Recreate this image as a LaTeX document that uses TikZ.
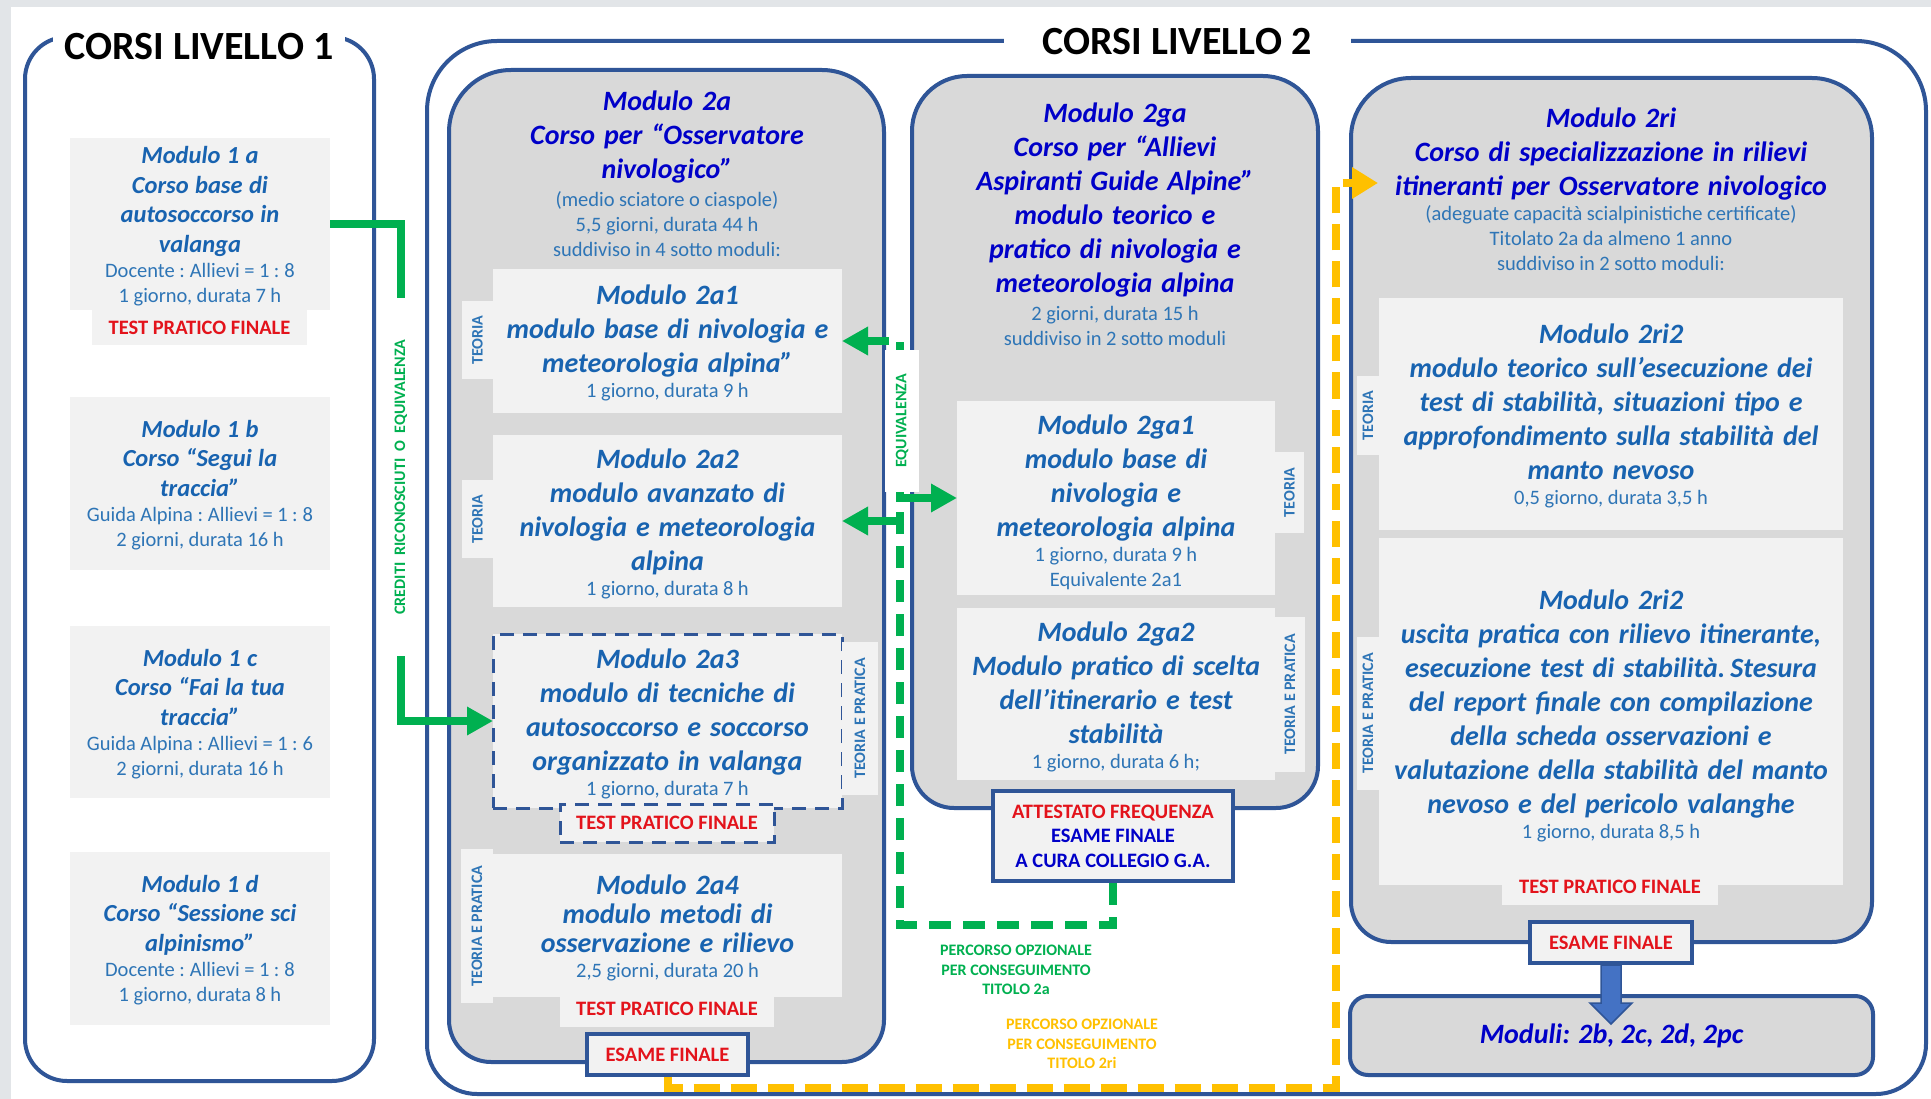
\documentclass[tikz,border=0pt]{standalone}
\usepackage{fontspec}
\setmainfont{Carlito}
\usetikzlibrary{arrows.meta,calc}
\definecolor{bordo}{HTML}{2F5597}
\definecolor{boxg}{HTML}{D9D9D9}
\definecolor{lightg}{HTML}{F2F2F2}
\definecolor{titleblue}{HTML}{0000C8}
\definecolor{headblue}{HTML}{1863B0}
\definecolor{smallblue}{HTML}{2E75B6}
\definecolor{redt}{HTML}{E3131B}
\definecolor{greenl}{HTML}{00B050}
\definecolor{yell}{HTML}{FFC000}
\definecolor{arrblue}{HTML}{4472C4}
\definecolor{bgg}{HTML}{E2E5E8}
\setlength\parindent{0pt}
\newcommand\hdL{\fontsize{28}{34}\selectfont\bfseries\itshape\color{headblue}\spaceskip=.32em\relax}
\newcommand\hdM{\fontsize{28}{29}\selectfont\bfseries\itshape\color{headblue}\spaceskip=.32em\relax}
\newcommand\hdT{\fontsize{28}{34}\selectfont\bfseries\itshape\color{titleblue}\spaceskip=.32em\relax}
\newcommand\hdI{\fontsize{24.5}{29.5}\selectfont\bfseries\itshape\color{headblue}\spaceskip=.26em\relax}
\newcommand\smL{\fontsize{20.5}{25}\selectfont\mdseries\upshape\color{smallblue}\spaceskip=.22em\relax}
\newcommand\tstR{\fontsize{20.5}{24.5}\selectfont\bfseries\upshape\color{redt}\spaceskip=.226em\relax}
\newcommand\attB{\fontsize{20.5}{24.5}\selectfont\bfseries\upshape\color{titleblue}\spaceskip=.226em\relax}
\newcommand\gapS{\vskip3pt}
\newcommand\frameRR[7]{\path[#7] (#1,{(#2+#4)/2}) [rounded corners=#5pt] -- (#1,#2) -- (#3,#2) -- (#3,{(#2+#4)/2}) [rounded corners=#6pt] -- (#3,#4) -- (#1,#4) -- cycle;}
\tikzset{
 lvframe/.style={draw=bordo, line width=4pt},
 modframe/.style={draw=bordo, line width=4pt, fill=boxg},
 lbox/.style={fill=lightg, inner sep=0pt, outer sep=0pt},
 dbox/.style={lbox, draw=bordo, line width=3pt, dash pattern=on 14pt off 9pt},
 txt/.style={inner sep=0pt, text width=480pt, align=center},
 tabv/.style={lbox, rotate=90, font=\fontsize{16}{19}\selectfont\bfseries, text=smallblue},
 testlbl/.style={font=\fontsize{20.5}{25}\selectfont\bfseries, text=redt},
 esame/.style={fill=lightg, draw=bordo, line width=4pt, inner sep=0pt},
 lvtitle/.style={fill=white, inner sep=0pt, font=\fontsize{40}{48}\selectfont\bfseries, text=black},
 gline/.style={draw=greenl, line width=8pt},
 gdash/.style={gline, dash pattern=on 22pt off 12pt},
 ydash/.style={draw=yell, line width=8pt, dash pattern=on 26pt off 11pt},
 gtip/.style={-{Triangle[length=26pt,width=27pt]}},
 ytip/.style={-{Triangle[length=26pt,width=30pt]}},
 vlabel/.style={rotate=90, inner sep=0pt, font=\fontsize{16}{19}\selectfont\bfseries, text=greenl},
 pathlbl/.style={align=center, inner sep=0pt, font=\fontsize{16}{19.5}\selectfont\bfseries},
}
\begin{document}
\begin{tikzpicture}[x=1pt,y=-1pt]
\useasboundingbox (0,0) rectangle (1931,1099);
\fill[white] (0,0) rectangle (1931,1099);
\fill[bgg] (0,0) rectangle (1931,7);
\fill[bgg] (0,0) rectangle (11,1099);

% ---------- LEVEL 1 ----------
\frameRR{25}{37}{374}{1081}{42}{42}{lvframe}
\node[lvtitle, minimum width=292pt, minimum height=40pt] (t1) at (199,47) {CORSI LIVELLO 1};

\node[lbox, minimum width=260pt, minimum height=172pt] (m1a) at (200,224) {};
\node[lbox, testlbl, minimum width=215pt, minimum height=35pt] (tst1a) at (199.5,327.5) {TEST PRATICO FINALE};
\node[txt] (x1a) at (200,226) {{\hdI Modulo 1 a\par Corso base di\par autosoccorso in\par valanga\par}{\smL Docente : Allievi = 1 : 8\par 1 giorno, durata 7 h\par}};

\node[lbox, minimum width=260pt, minimum height=173pt] (m1b) at (200,483) {};
\node[txt] (x1b) at (200,485) {{\hdI Modulo 1 b\par Corso “Segui la\par traccia”\par}{\smL Guida Alpina : Allievi = 1 : 8\par 2 giorni, durata 16 h\par}};

\node[lbox, minimum width=260pt, minimum height=172pt] (m1c) at (200,712) {};
\node[txt] (x1c) at (200,714) {{\hdI Modulo 1 c\par Corso “Fai la tua\par traccia”\par}{\smL Guida Alpina : Allievi = 1 : 6\par 2 giorni, durata 16 h\par}};

\node[lbox, minimum width=260pt, minimum height=173pt] (m1d) at (200,938.5) {};
\node[txt] (x1d) at (200,940) {{\hdI Modulo 1 d\par Corso “Sessione sci\par alpinismo”\par}{\smL Docente : Allievi = 1 : 8\par 1 giorno, durata 8 h\par}};

% ---------- LEVEL 2 ----------
\frameRR{427}{41}{1926}{1094}{70}{50}{lvframe}
\node[lvtitle, minimum width=347pt, minimum height=40pt] (t2) at (1177,42) {CORSI LIVELLO 2};

% module 2a
\frameRR{449}{70}{884}{1062}{62}{42}{modframe}
\node[txt] (ttl2a) at (667,174) {{\hdT Modulo 2a\par Corso per “Osservatore\par nivologico”\par}\gapS{\smL (medio sciatore o ciaspole)\par 5,5 giorni, durata 44 h\par suddiviso in 4 sotto moduli:\par}};

\node[lbox, minimum width=349pt, minimum height=144pt] (m2a1) at (667.5,341) {};
\node[tabv, minimum width=78pt, minimum height=31pt] (tb2a1) at (477.5,340) {TEORIA};
\node[txt] (x2a1) at (667.5,343) {{\hdL Modulo 2a1\par modulo base di nivologia e\par meteorologia alpina”\par}{\smL 1 giorno, durata 9 h\par}};

\node[lbox, minimum width=349pt, minimum height=172pt] (m2a2) at (667.5,521) {};
\node[tabv, minimum width=78pt, minimum height=31pt] (tb2a2) at (477.5,519) {TEORIA};
\node[txt] (x2a2) at (667.5,524) {{\hdL Modulo 2a2\par modulo avanzato di\par nivologia e meteorologia\par alpina\par}{\smL 1 giorno, durata 8 h\par}};

\node[dbox, minimum width=349pt, minimum height=174pt] (m2a3) at (667.5,721) {};
\node[tabv, minimum width=153pt, minimum height=36pt] (tb2a3) at (860,718.5) {TEORIA E PRATICA};
\node[txt] (x2a3) at (667.5,724) {{\hdL Modulo 2a3\par modulo di tecniche di\par autosoccorso e soccorso\par organizzato in valanga\par}{\smL 1 giorno, durata 7 h\par}};
\node[dbox, testlbl, minimum width=214pt, minimum height=38pt] (tst2a3) at (667,823) {TEST PRATICO FINALE};

\node[lbox, minimum width=349pt, minimum height=143pt] (m2a4) at (667.5,925.5) {};
\node[tabv, minimum width=154pt, minimum height=32pt] (tb2a4) at (477,926) {TEORIA E PRATICA};
\node[txt] (x2a4) at (667.5,928) {{\hdM Modulo 2a4\par modulo metodi di\par osservazione e rilievo\par}{\smL 2,5 giorni, durata 20 h\par}};
\node[lbox, testlbl, minimum width=214pt, minimum height=37pt] (tst2a4) at (667,1008.5) {TEST PRATICO FINALE};

\node[esame, testlbl, minimum width=161pt, minimum height=41pt] (e2a) at (667.5,1054.5) {ESAME FINALE};

% module 2ga
\frameRR{912}{76}{1318}{808}{55}{42}{modframe}
\node[txt] (ttl2ga) at (1115,224) {{\hdT Modulo 2ga\par Corso per “Allievi\par Aspiranti Guide Alpine”\par modulo teorico e\par pratico di nivologia e\par meteorologia alpina\par}\gapS{\smL 2 giorni, durata 15 h\par suddiviso in 2 sotto moduli\par}};

\node[lbox, minimum width=318pt, minimum height=194pt] (m2ga1) at (1116,498) {};
\node[tabv, minimum width=81pt, minimum height=29pt] (tb2ga1) at (1289.5,492.5) {TEORIA};
\node[txt] (x2ga1) at (1116,502) {{\hdL Modulo 2ga1\par modulo base di\par nivologia e\par meteorologia alpina\par}{\smL 1 giorno, durata 9 h\par Equivalente 2a1\par}};

\node[lbox, minimum width=318pt, minimum height=172pt] (m2ga2) at (1116,694) {};
\node[tabv, minimum width=155pt, minimum height=30pt] (tb2ga2) at (1290,694.5) {TEORIA E PRATICA};
\node[txt] (x2ga2) at (1116,697) {{\hdL Modulo 2ga2\par Modulo pratico di scelta\par dell’itinerario e test\par stabilità\par}{\smL 1 giorno, durata 6 h;\par}};

\node[esame, minimum width=240pt, minimum height=90pt] (att) at (1113,836) {};
\node[txt] (xatt) at (att) {{\tstR ATTESTATO FREQUENZA\par}{\attB ESAME FINALE\par A CURA COLLEGIO G.A.\par}};

% module 2ri
\frameRR{1351}{78}{1872}{942}{60}{40}{modframe}
\node[txt] (ttl2ri) at (1611,189) {{\hdT Modulo 2ri\par Corso di specializzazione in rilievi\par itineranti per Osservatore nivologico\par}{\smL (adeguate capacità scialpinistiche certificate)\par Titolato 2a da almeno 1 anno\par suddiviso in 2 sotto moduli:\par}};

\node[lbox, minimum width=464pt, minimum height=232pt] (m2ri1) at (1611,414) {};
\node[tabv, minimum width=79pt, minimum height=22pt] (tb2ri1) at (1368,415.5) {TEORIA};
\node[txt] (x2ri1) at (1611,416) {{\hdL Modulo 2ri2\par modulo teorico sull’esecuzione dei\par test di stabilità, situazioni tipo e\par approfondimento sulla stabilità del\par manto nevoso\par}{\smL 0,5 giorno, durata 3,5 h\par}};

\node[lbox, minimum width=464pt, minimum height=347pt] (m2ri2) at (1611,711.5) {};
\node[tabv, minimum width=153pt, minimum height=22pt] (tb2ri2) at (1368,713.5) {TEORIA E PRATICA};
\node[txt] (x2ri2) at (1611,716) {{\hdL Modulo 2ri2\par uscita pratica con rilievo itinerante,\par esecuzione test di stabilità. Stesura\par del report finale con compilazione\par della scheda osservazioni e\par valutazione della stabilità del manto\par nevoso e del pericolo valanghe\par}{\smL 1 giorno, durata 8,5 h\par}};
\node[lbox, testlbl, minimum width=216pt, minimum height=37pt] (tst2ri) at (1610,886.5) {TEST PRATICO FINALE};

\node[draw=bordo, line width=4pt, fill=boxg, rounded corners=18pt, minimum width=523pt, minimum height=79pt, inner sep=0pt, font=\fontsize{28}{34}\selectfont\bfseries\itshape, text=titleblue] (mod) at (1611.5,1035.5) {Moduli: 2b, 2c, 2d, 2pc};
\node[esame, testlbl, minimum width=162pt, minimum height=41pt] (e2ri) at (1611,942.5) {ESAME FINALE};
\coordinate (atip) at (1611,1024);
\draw[fill=arrblue, draw=bordo, line width=1.5pt] ($(e2ri.south)+(-10,0)$) -- ++(0,38) -- ++(-11,0) -- (atip) -- ++(21,-21) -- ++(-11,0) -- ++(0,-38) -- cycle;

% ---------- connectors ----------
% credits (green, solid)
\coordinate (cr1) at (401,224);
\coordinate (cr2) at (401,298);
\coordinate (cr3) at (401,656);
\draw[gline] (m1a.east) -- (cr1) -- (cr2);
\draw[gline, gtip] (cr3) |- (m2a3.west);
\node[vlabel] (cred) at (401,477) {CREDITI~~RICONOSCIUTI~~O~~EQUIVALENZA};

% yellow optional path
\coordinate (yc1) at (1336,1088);
\coordinate (yc2) at (1336,183);
\coordinate (ytp) at (1378,183);
\draw[ydash, ytip] (e2a.south) |- (yc1) -- (yc2) -- (ytp);

% green optional path
\coordinate (gc1) at (900,925);
\coordinate (gtop) at (900,341);
\coordinate (ga) at (896,498);
\coordinate (gb) at (904,521);
\draw[gdash, gtip] (att.south) |- (gc1) -- (gtop) -- (m2a1.east);
\draw[gline, gtip] (ga) -- (m2ga1.west);
\draw[gline, gtip] (gb) -- (m2a2.east);
\node[fill=white, inner sep=0pt, minimum width=142pt, minimum height=34pt, rotate=90, font=\fontsize{16}{19}\selectfont\bfseries, text=greenl] (eqv) at (902,421) {EQUIVALENZA};

\node[pathlbl, text=greenl] (pg) at (1016,970) {PERCORSO OPZIONALE\\PER CONSEGUIMENTO\\TITOLO 2a};
\node[pathlbl, text=yell] (py) at (1082,1044) {PERCORSO OPZIONALE\\PER CONSEGUIMENTO\\TITOLO 2ri};
\end{tikzpicture}
\end{document}
